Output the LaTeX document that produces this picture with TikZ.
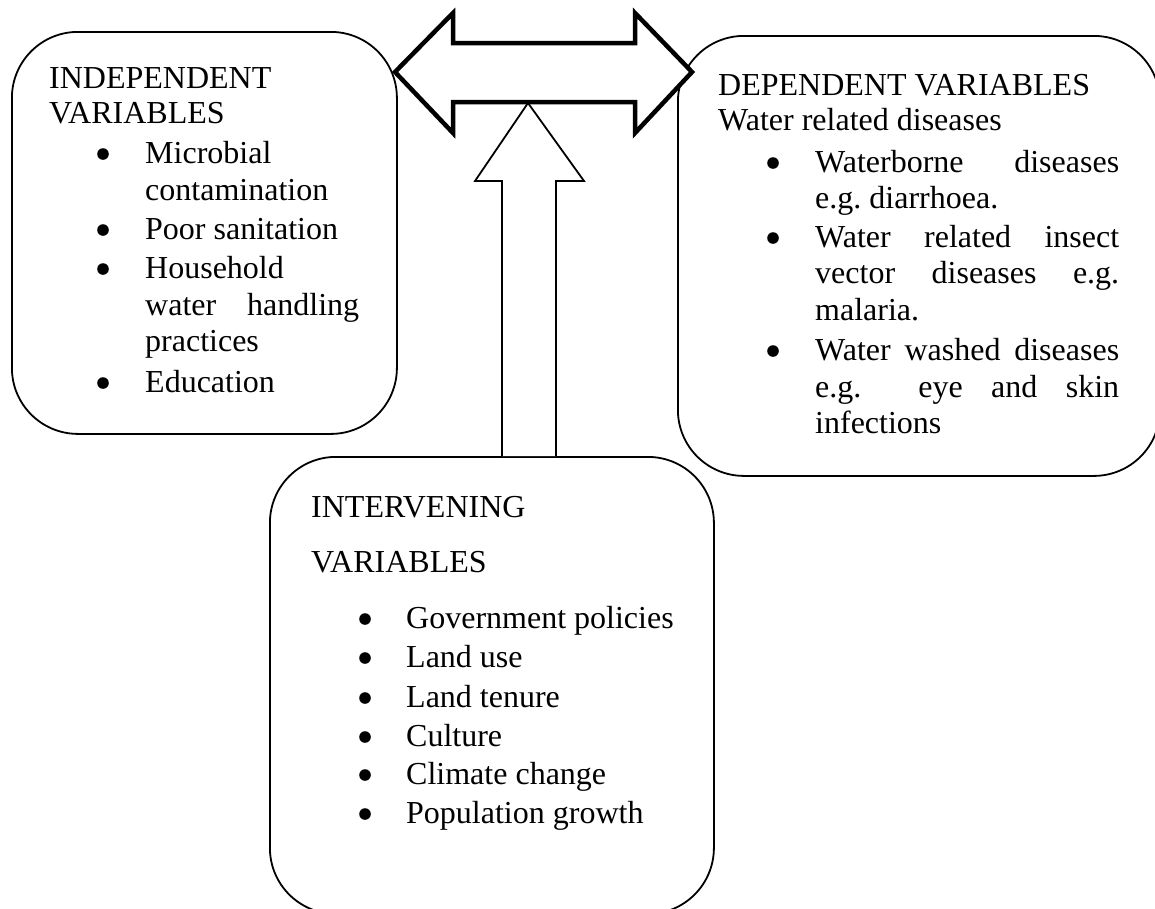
\documentclass[tikz,border=0pt]{standalone}
\usepackage{fontspec}
\setmainfont{Liberation Serif}
\newcommand\mybul[2]{\fill (#1,#2-9) circle (5.8);}
\begin{document}
\begin{tikzpicture}[x=1pt,y=-1pt,
  box/.style={draw, line width=1.8pt, rounded corners=66pt, anchor=north west, inner sep=0pt, fill=white},
  txt/.style={anchor=base west, inner sep=0pt, font=\fontsize{32}{38}\selectfont},
  bigarrow/.style={draw, fill=white, line width=4.5pt, line join=miter},
  uparrow/.style={draw, fill=white, line width=1.8pt, line join=miter}]
\useasboundingbox (0,0) rectangle (1155,908);
\clip (0,0) rectangle (1155,908);
% boxes
\node[box, minimum width=385pt, minimum height=402pt] (indep) at (11,31) {};
\node[box, minimum width=482pt, minimum height=440pt] (dep) at (677,35) {};
\node[box, minimum width=444pt, minimum height=457pt] (interv) at (269,456) {};
% double arrow
\coordinate (ltip) at (395,72);
\coordinate (rtip) at (692,72);
\draw[bigarrow] (ltip) -- (453,13) -- (453,43) -- (635,43) -- (635,13) -- (rtip)
  -- (635,133) -- (635,102) -- (453,102) -- (453,133) -- cycle;
% up arrow
\coordinate (utip) at (528,103);
\coordinate (ubl) at (502,456);
\coordinate (ubr) at (556,456);
\draw[uparrow] (ubl) -- (502,181) -- (475,181) -- (utip) -- (584,181) -- (556,181) -- (ubr);
% independent
\node[txt] (i1) at (49,88) {INDEPENDENT};
\node[txt] (i2) at (49,123) {VARIABLES};
\mybul{103}{163}
\node[txt] (i3) at (145,163) {Microbial};
\node[txt] (i4) at (145,200) {contamination};
\mybul{103}{239}
\node[txt] (i5) at (145,239) {Poor sanitation};
\mybul{103}{278}
\node[txt] (i6) at (145,278) {Household};
\node[txt] (i7) at (145,315) {\makebox[214pt][s]{water handling}};
\node[txt] (i8) at (145,351) {practices};
\mybul{103}{392}
\node[txt] (i9) at (145,392) {Education};
% dependent
\node[txt] (d1) at (718,95) {DEPENDENT VARIABLES};
\node[txt] (d2) at (718,130) {Water related diseases};
\mybul{773}{172}
\node[txt] (d3) at (815,172) {\makebox[304pt][s]{Waterborne diseases}};
\node[txt] (d4) at (815,208) {e.g.\ diarrhoea.};
\mybul{773}{247}
\node[txt] (d5) at (815,247) {\makebox[304pt][s]{Water related insect}};
\node[txt] (d6) at (815,283) {\makebox[304pt][s]{vector diseases e.g.}};
\node[txt] (d7) at (815,320) {malaria.};
\mybul{773}{360}
\node[txt] (d8) at (815,360) {\makebox[304pt][s]{Water washed diseases}};
\node[txt] (d9) at (815,397) {\makebox[304pt][s]{e.g.\ \ eye and skin}};
\node[txt] (d10) at (815,433) {infections};
% intervening
\node[txt] (v1) at (311,517) {INTERVENING};
\node[txt] (v2) at (311,572) {VARIABLES};
\mybul{365}{628}
\node[txt] (v3) at (406,628) {Government policies};
\mybul{365}{667}
\node[txt] (v4) at (406,667) {Land use};
\mybul{365}{707}
\node[txt] (v5) at (406,707) {Land tenure};
\mybul{365}{746}
\node[txt] (v6) at (406,746) {Culture};
\mybul{365}{784}
\node[txt] (v7) at (406,784) {Climate change};
\mybul{365}{823}
\node[txt] (v8) at (406,823) {Population growth};
\end{tikzpicture}
\end{document}
